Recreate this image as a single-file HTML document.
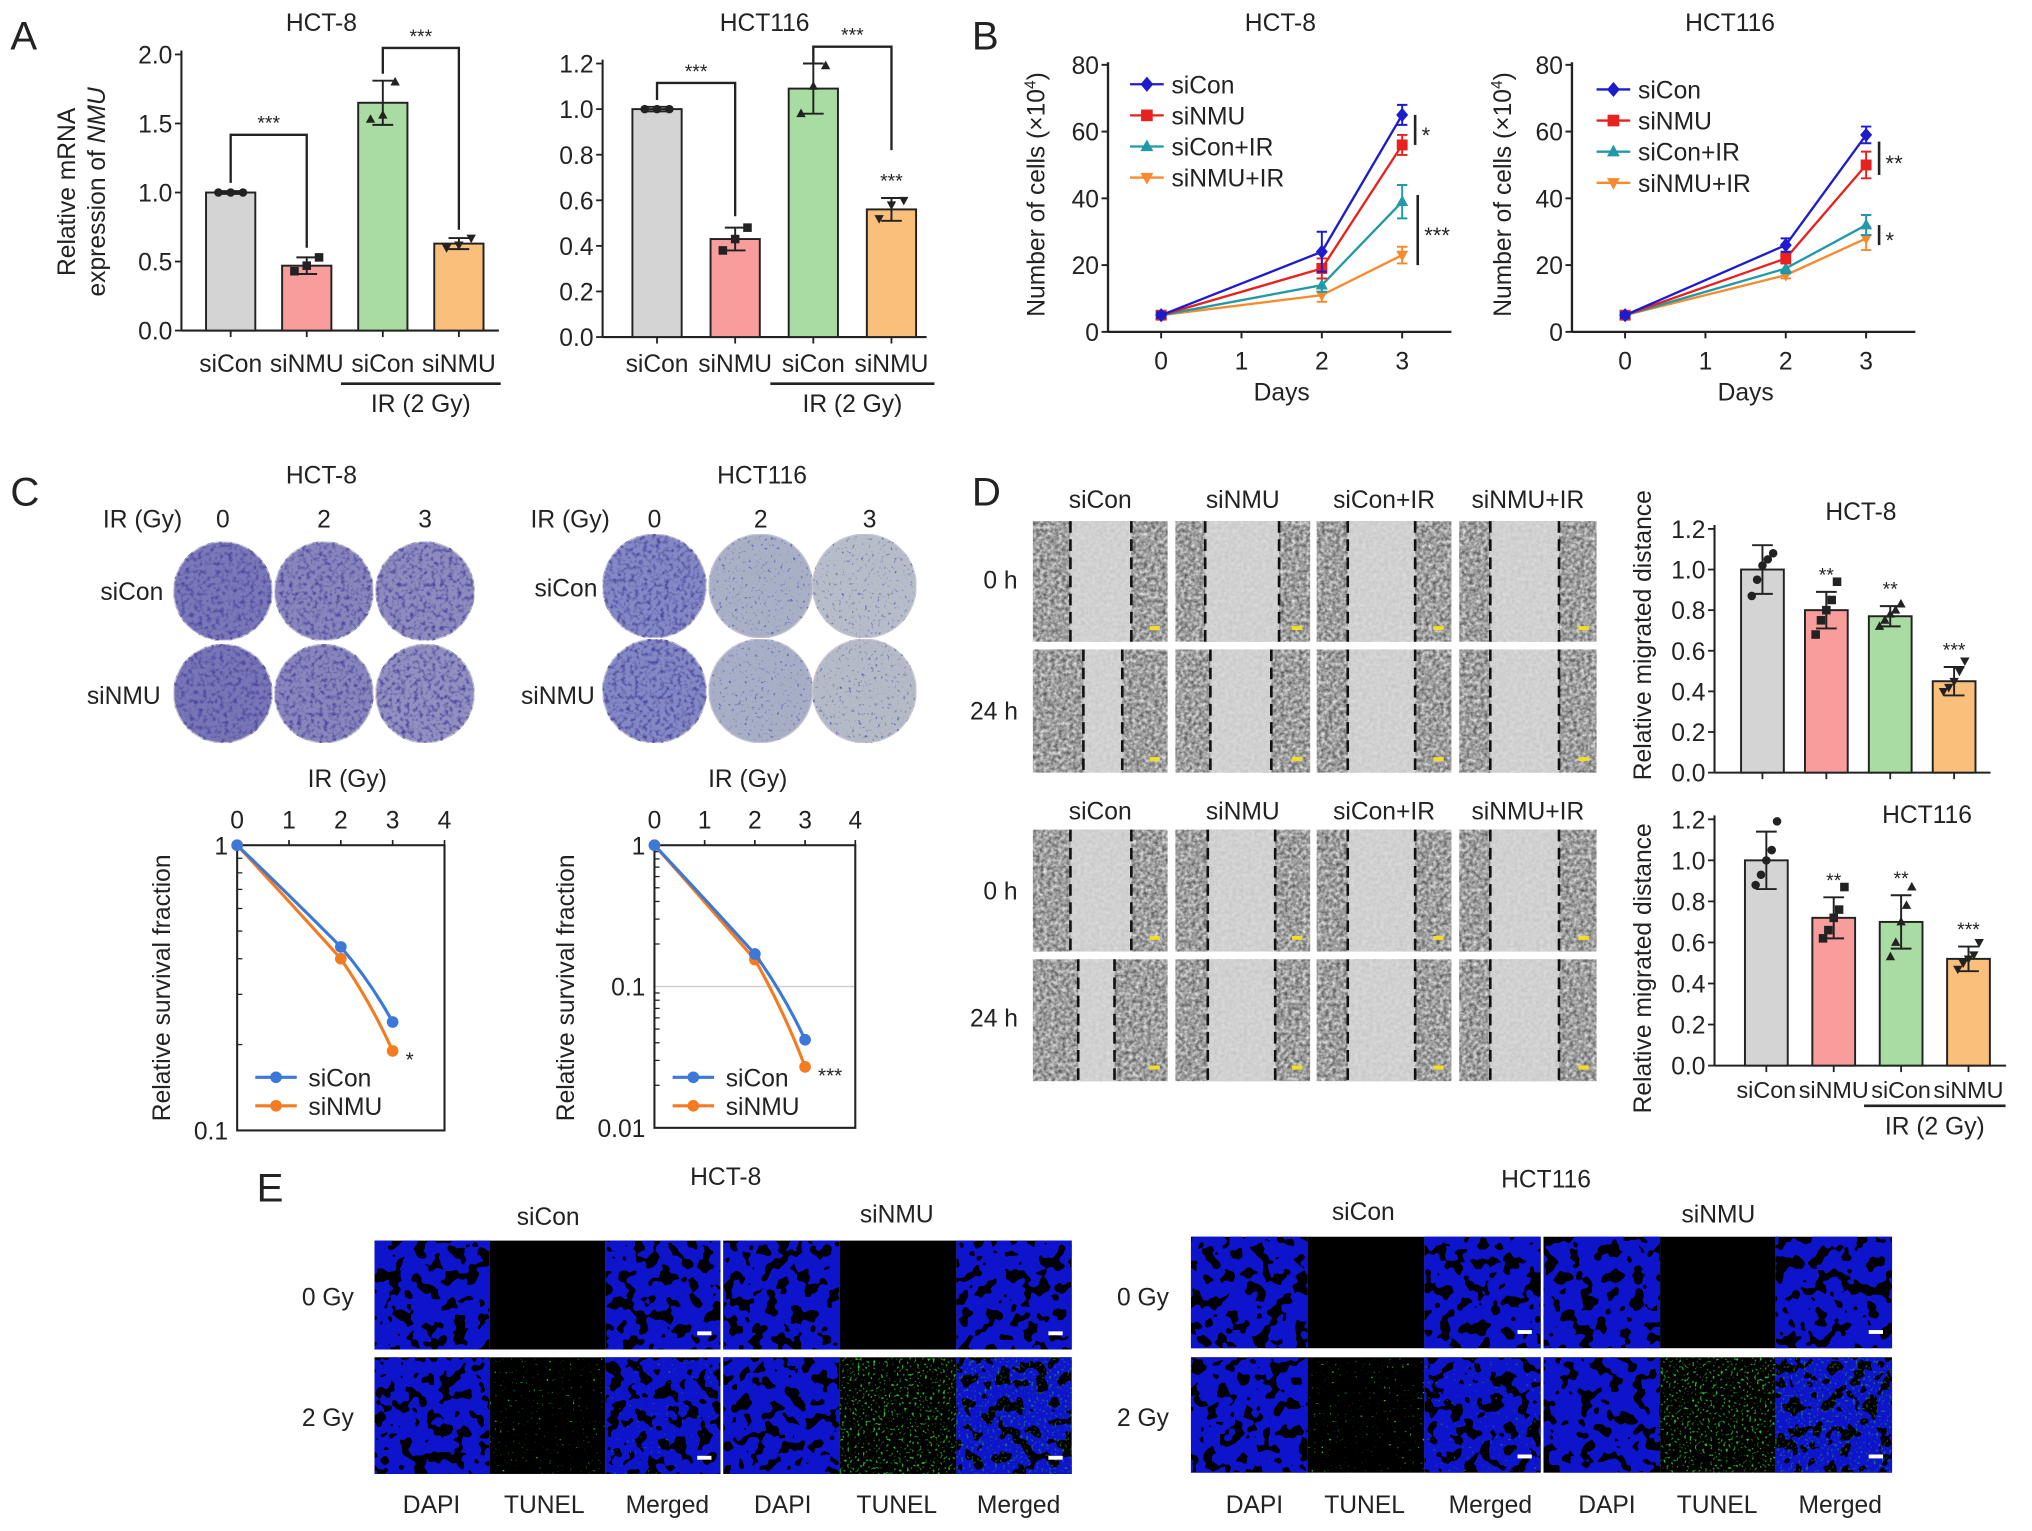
<!DOCTYPE html>
<html><head><meta charset="utf-8">
<style>
html,body{margin:0;padding:0;background:#fff;}
svg{display:block;font-family:"Liberation Sans",Arial,sans-serif;}
text{fill:#222;}
</style></head>
<body>
<svg id="fig" xmlns="http://www.w3.org/2000/svg" width="2032" height="1531" viewBox="0 0 1568 1181" preserveAspectRatio="none">
<defs>
<filter id="colony" x="0" y="0" width="1" height="1" color-interpolation-filters="sRGB">
 <feTurbulence type="fractalNoise" baseFrequency="0.3" numOctaves="2" seed="4" result="n"/>
 <feColorMatrix in="n" type="matrix" values="0 0 0 0 0.3  0 0 0 0 0.28  0 0 0 0 0.62  3 0 0 0 -1.4" result="s"/>
 <feComposite in="s" in2="SourceGraphic" operator="in" result="c"/>
 <feMerge><feMergeNode in="SourceGraphic"/><feMergeNode in="c"/></feMerge>
</filter>
<filter id="colonyL" x="0" y="0" width="1" height="1" color-interpolation-filters="sRGB">
 <feTurbulence type="fractalNoise" baseFrequency="0.4" numOctaves="2" seed="7" result="n"/>
 <feColorMatrix in="n" type="matrix" values="0 0 0 0 0.3  0 0 0 0 0.3  0 0 0 0 0.65  4 0 0 0 -2.5" result="s"/>
 <feComposite in="s" in2="SourceGraphic" operator="in" result="c"/>
 <feMerge><feMergeNode in="SourceGraphic"/><feMergeNode in="c"/></feMerge>
</filter>
<filter id="scratch" x="0" y="0" width="1" height="1" color-interpolation-filters="sRGB">
 <feTurbulence type="fractalNoise" baseFrequency="0.35" numOctaves="2" seed="2" result="n"/>
 <feColorMatrix in="n" type="matrix" values="0.8 0 0 0 0.22  0.8 0 0 0 0.22  0.8 0 0 0 0.22  0 0 0 0 1" result="g"/>
 <feComposite in="g" in2="SourceGraphic" operator="in"/>
</filter>
<filter id="dapi" x="0" y="0" width="1" height="1" color-interpolation-filters="sRGB">
 <feTurbulence type="fractalNoise" baseFrequency="0.1" numOctaves="2" seed="5" result="n"/>
 <feColorMatrix in="n" type="matrix" values="0 0 0 0 0.05  0 0 0 0 0.08  0 0 0 0 0.8  2 0 0 0 -0.62" result="s"/>
 <feComponentTransfer in="s" result="t"><feFuncA type="discrete" tableValues="0 1 1 1"/></feComponentTransfer>
 <feComposite in="t" in2="SourceGraphic" operator="in"/>
</filter>
<filter id="tunel" x="0" y="0" width="1" height="1" color-interpolation-filters="sRGB">
 <feTurbulence type="fractalNoise" baseFrequency="0.5" numOctaves="1" seed="9" result="n"/>
 <feColorMatrix in="n" type="matrix" values="0 0 0 0 0.15  0 0 0 0 0.75  0 0 0 0 0.2  7 0 0 0 -4.1" result="s"/>
 <feComposite in="s" in2="SourceGraphic" operator="in"/>
</filter>
<filter id="tunelS" x="0" y="0" width="1" height="1" color-interpolation-filters="sRGB">
 <feTurbulence type="fractalNoise" baseFrequency="0.5" numOctaves="1" seed="11" result="n"/>
 <feColorMatrix in="n" type="matrix" values="0 0 0 0 0.15  0 0 0 0 0.8  0 0 0 0 0.2  9 0 0 0 -6.2" result="s"/>
 <feComposite in="s" in2="SourceGraphic" operator="in"/>
</filter>
</defs>

<text x="8" y="38" font-size="31">A</text>
<text x="750" y="38" font-size="31">B</text>
<text x="8" y="390" font-size="31">C</text>
<text x="750" y="390" font-size="31">D</text>
<text x="198" y="927" font-size="31">E</text>

<text x="248" y="24" font-size="19" text-anchor="middle">HCT-8</text>
<text x="590" y="24" font-size="19" text-anchor="middle">HCT116</text>
<text transform="translate(58,148) rotate(-90)" font-size="19" text-anchor="middle">Relative mRNA</text>
<text transform="translate(81,148) rotate(-90)" font-size="19" text-anchor="middle">expression of <tspan font-style="italic">NMU</tspan></text>

<text x="988" y="24" font-size="19" text-anchor="middle">HCT-8</text>
<text x="1335" y="24" font-size="19" text-anchor="middle">HCT116</text>
<text transform="translate(806,150) rotate(-90)" font-size="19" text-anchor="middle">Number of cells (×10<tspan font-size="12" dy="-7">4</tspan><tspan dy="7">)</tspan></text>
<text transform="translate(1166,150) rotate(-90)" font-size="19" text-anchor="middle">Number of cells (×10<tspan font-size="12" dy="-7">4</tspan><tspan dy="7">)</tspan></text>
<text x="989" y="309" font-size="19" text-anchor="middle">Days</text>
<text x="1347" y="309" font-size="19" text-anchor="middle">Days</text>

<text x="248" y="373" font-size="19" text-anchor="middle">HCT-8</text>
<text x="588" y="373" font-size="19" text-anchor="middle">HCT116</text>
<text x="110" y="407" font-size="19" text-anchor="middle">IR (Gy)</text>
<text x="440" y="407" font-size="19" text-anchor="middle">IR (Gy)</text>
<text x="126" y="463" font-size="19" text-anchor="end">siCon</text>
<text x="124" y="543" font-size="19" text-anchor="end">siNMU</text>
<text x="461" y="460" font-size="19" text-anchor="end">siCon</text>
<text x="459" y="543" font-size="19" text-anchor="end">siNMU</text>
<text x="268" y="607" font-size="19" text-anchor="middle">IR (Gy)</text>
<text x="577" y="607" font-size="19" text-anchor="middle">IR (Gy)</text>
<text transform="translate(131,762) rotate(-90)" font-size="19" text-anchor="middle">Relative survival fraction</text>
<text transform="translate(443,762) rotate(-90)" font-size="19" text-anchor="middle">Relative survival fraction</text>

<text x="1436" y="401" font-size="19" text-anchor="middle">HCT-8</text>
<text x="1487" y="635" font-size="19" text-anchor="middle">HCT116</text>
<text transform="translate(1274,490) rotate(-90)" font-size="19" text-anchor="middle">Relative migrated distance</text>
<text transform="translate(1274,747) rotate(-90)" font-size="19" text-anchor="middle">Relative migrated distance</text>
<text x="772" y="454" font-size="19" text-anchor="middle">0 h</text>
<text x="767" y="555" font-size="19" text-anchor="middle">24 h</text>
<text x="772" y="694" font-size="19" text-anchor="middle">0 h</text>
<text x="767" y="792" font-size="19" text-anchor="middle">24 h</text>

<text x="560" y="914" font-size="19" text-anchor="middle">HCT-8</text>
<text x="1193" y="916" font-size="19" text-anchor="middle">HCT116</text>
<text x="423" y="945" font-size="19" text-anchor="middle">siCon</text>
<text x="692" y="943" font-size="19" text-anchor="middle">siNMU</text>
<text x="1052" y="941" font-size="19" text-anchor="middle">siCon</text>
<text x="1326" y="943" font-size="19" text-anchor="middle">siNMU</text>
<text x="253" y="1007" font-size="19" text-anchor="middle">0 Gy</text>
<text x="253" y="1100" font-size="19" text-anchor="middle">2 Gy</text>
<text x="882" y="1007" font-size="19" text-anchor="middle">0 Gy</text>
<text x="882" y="1100" font-size="19" text-anchor="middle">2 Gy</text>

<g id="layer"></g>
</svg>
<script>
// ---------- DATA ----------
const barCats = ['siCon','siNMU','siCon','siNMU'];
const aHct8Vals = [1.0, 0.47, 1.65, 0.63];
const aHct8Errs = [0.01, 0.06, 0.16, 0.04];
const aHct8Reps = [[1,1,1],[0.43,0.47,0.53],[1.53,1.56,1.8],[0.6,0.62,0.67]];
const aHct8Ticks = ['0.0','0.5','1.0','1.5','2.0'];
const aHct116Vals = [1.0, 0.43, 1.09, 0.56];
const aHct116Errs = [0.01, 0.05, 0.11, 0.05];
const aHct116Reps = [[1,1,1],[0.38,0.43,0.48],[0.98,1.1,1.19],[0.52,0.58,0.6]];
const aHct116Ticks = ['0.0','0.2','0.4','0.6','0.8','1.0','1.2'];

const days = [0, 2, 3];
const dayTicks = ['0','1','2','3'];
const growthTicks = ['0','20','40','60','80'];
const seriesNames = ['siCon','siNMU','siCon+IR','siNMU+IR'];
const bHct8Vals = [[5,24,65],[5,19,56],[5,14,39],[5,11,23]];
const bHct8Errs = [[0.8,6,3],[0.8,3,3],[0.8,2,5],[0.8,2,2.5]];
const bHct116Vals = [[5,26,59],[5,22,50],[5,19,32],[5,17,28]];
const bHct116Errs = [[0.8,2,2.5],[0.8,1.5,4],[0.8,1.5,3],[0.8,1,3.5]];

const doses = [0, 2, 3];
const doseTicks = ['0','1','2','3','4'];
const cHct8Con = [1, 0.44, 0.24];
const cHct8Nmu = [1, 0.40, 0.19];
const cHct116Con = [1, 0.17, 0.042];
const cHct116Nmu = [1, 0.155, 0.027];

const dCats = ['siCon','siNMU','siCon','siNMU'];
const dHct8Vals = [1.0, 0.80, 0.77, 0.45];
const dHct8Errs = [0.12, 0.09, 0.05, 0.07];
const dHct8Reps = [[0.87,0.95,1.02,1.05,1.08],[0.68,0.75,0.8,0.85,0.94],[0.72,0.75,0.78,0.8,0.83],[0.4,0.42,0.45,0.5,0.55]];
const dHct116Vals = [1.0, 0.72, 0.70, 0.52];
const dHct116Errs = [0.14, 0.10, 0.13, 0.06];
const dHct116Reps = [[0.88,0.93,1.0,1.05,1.19],[0.62,0.66,0.72,0.76,0.87],[0.53,0.6,0.7,0.78,0.87],[0.47,0.5,0.52,0.54,0.6]];
const dTicks = ['0.0','0.2','0.4','0.6','0.8','1.0','1.2'];

// ---------- HELPERS ----------
const NS='http://www.w3.org/2000/svg';
const root=document.getElementById('layer');
function mk(tag,a,p){const e=document.createElementNS(NS,tag);for(const k in a)e.setAttribute(k,a[k]);(p||root).appendChild(e);return e;}
function tx(s,x,y,a,p){const e=mk('text',Object.assign({x:x,y:y,'font-size':19},a||{}),p);e.textContent=s;return e;}
function marker(shape,x,y,r,fill,p){
  let e;
  if(shape==='circle') e=mk('circle',{cx:x,cy:y,r:r,fill:fill},p);
  else if(shape==='square') e=mk('rect',{x:x-r,y:y-r,width:2*r,height:2*r,fill:fill},p);
  else if(shape==='diamond') e=mk('polygon',{points:`${x},${y-r*1.3} ${x+r*1.1},${y} ${x},${y+r*1.3} ${x-r*1.1},${y}`,fill:fill},p);
  else if(shape==='up') e=mk('polygon',{points:`${x},${y-r*1.2} ${x+r*1.1},${y+r*0.8} ${x-r*1.1},${y+r*0.8}`,fill:fill},p);
  else e=mk('polygon',{points:`${x},${y+r*1.2} ${x+r*1.1},${y-r*0.8} ${x-r*1.1},${y-r*0.8}`,fill:fill},p);
  return e;
}
const barFills=['#d4d4d4','#f89c9c','#a8dca2','#fbbf7c'];
const repShapes=['circle','square','up','down'];

// ---------- BAR CHART ----------
function barChart(name,o){
  const g=mk('g',{});
  
  
  const y=v=>o.y0-(v/o.ymax)*(o.y0-o.yTop);
  const xc=i=>o.first+i*o.step;
  const fs=o.fs||19;
  const ax=mk('line',{x1:o.ax,y1:o.yTop-3,x2:o.ax,y2:o.y0,stroke:'#222','stroke-width':1.6},g);
  
  
  const bx=mk('line',{x1:o.ax,y1:o.y0,x2:o.xEnd,y2:o.y0,stroke:'#222','stroke-width':1.6},g);
  
  
  o.ticks.forEach((t,i)=>{
    const v=o.ymax*i/(o.ticks.length-1);
    const tk=mk('line',{x1:o.ax-5,y1:y(v),x2:o.ax,y2:y(v),stroke:'#222','stroke-width':1.4},g);
    
    
    const tl=tx(t,o.ax-7,y(v)+7,{'text-anchor':'end'},g);
    
    
  });
  o.vals.forEach((v,i)=>{
    const b=mk('rect',{x:xc(i)-o.bw/2,y:y(v),width:o.bw,height:o.y0-y(v),fill:barFills[i],stroke:'#222','stroke-width':1.5},g);
    
    
    const tk=mk('line',{x1:xc(i),y1:o.y0,x2:xc(i),y2:o.y0+5,stroke:'#222','stroke-width':1.4},g);
    
    
    const e=o.errs[i];
    const eb=mk('path',{d:`M${xc(i)},${y(v-e)}V${y(v+e)}M${xc(i)-8},${y(v+e)}h16M${xc(i)-8},${y(v-e)}h16`,stroke:'#222','stroke-width':1.5,fill:'none'},g);
    
    
    const reps=o.reps[i];
    reps.forEach((r,j)=>{
      const off=(j-(reps.length-1)/2)*(o.bw*0.5/(reps.length-1||1));
      const m=marker(repShapes[i],xc(i)+off,y(r),3.3,'#222',g);
      
      
    });
    if(o.labels){
      const cl=tx(o.labels[i],xc(i),o.labY,{'text-anchor':'middle','font-size':fs},g);
      
      
    }
    if(o.stars && o.stars[i]){
      const st=tx(o.stars[i],xc(i),y(v+e)-8,{'text-anchor':'middle','font-size':15},g);
      
      
    }
  });
  if(o.irY){
    const l=mk('line',{x1:xc(2)-o.step*0.55,y1:o.irY,x2:xc(3)+o.step*0.55,y2:o.irY,stroke:'#222','stroke-width':2},g);
    
    
    const it=tx('IR (2 Gy)',(xc(2)+xc(3))/2,o.irY+22,{'text-anchor':'middle'},g);
    
    
  }
  (o.brackets||[]).forEach(br=>{
    const x1=xc(br[0]),x2=xc(br[1]);
    const p=mk('path',{d:`M${x1},${y(br[3])}V${br[2]}H${x2}V${y(br[4])}`,stroke:'#222','stroke-width':1.8,fill:'none'},g);
    
    
    const s=tx('***',(x1+x2)/2,br[2]-4,{'text-anchor':'middle','font-size':15},g);
    
    
  });
}

barChart('a-hct8-bar-chart',{ax:140,y0:255,yTop:42,ymax:2.0,ticks:aHct8Ticks,first:178,step:58.7,bw:38,xEnd:385,
  vals:aHct8Vals,errs:aHct8Errs,reps:aHct8Reps,labels:barCats,labY:287,irY:296,
  brackets:[[0,1,104,1.07,0.6],[2,3,37,1.86,0.73]]});
barChart('a-hct116-bar-chart',{ax:465,y0:260,yTop:49,ymax:1.2,ticks:aHct116Ticks,first:507,step:60.3,bw:38,xEnd:715,
  vals:aHct116Vals,errs:aHct116Errs,reps:aHct116Reps,labels:barCats,labY:287,irY:296,stars:[null,null,null,'***'],
  brackets:[[0,1,64,1.04,0.53],[2,3,36,1.2,0.82]]});
barChart('d-hct8-bar-chart',{ax:1323,y0:596,yTop:408,ymax:1.2,ticks:dTicks,first:1360,step:49.3,bw:33,xEnd:1536,
  vals:dHct8Vals,errs:dHct8Errs,reps:dHct8Reps,stars:[null,'**','**','***']});
barChart('d-hct116-bar-chart',{ax:1323,y0:822,yTop:632,ymax:1.2,ticks:dTicks,first:1363,step:52,bw:33,xEnd:1548,fs:18,
  vals:dHct116Vals,errs:dHct116Errs,reps:dHct116Reps,labels:dCats,labY:847,irY:853,stars:[null,'**','**','***']});

// ---------- LINE (growth) CHART ----------
const lineColors=['#1c1ccc','#e8211f','#1f9aa6','#f78a2f'];
const lineShapes=['diamond','square','up','down'];
function growthChart(name,o){
  const g=mk('g',{});
  
  
  const y=v=>o.y0-(v/80)*(o.y0-o.yTop);
  const x=d=>o.x0+d*o.dx;
  const ya=mk('line',{x1:o.ax,y1:o.yTop-2,x2:o.ax,y2:o.y0,stroke:'#222','stroke-width':1.8},g);
  
  
  const xa=mk('line',{x1:o.ax,y1:o.y0,x2:o.xEnd,y2:o.y0,stroke:'#222','stroke-width':1.8},g);
  
  
  growthTicks.forEach((t,i)=>{
    const v=i*20;
    const tk=mk('line',{x1:o.ax-5,y1:y(v),x2:o.ax,y2:y(v),stroke:'#222','stroke-width':1.5},g);
    
    
    const tl=tx(t,o.ax-7,y(v)+7,{'text-anchor':'end'},g);
    
    
  });
  dayTicks.forEach((t,i)=>{
    const tk=mk('line',{x1:x(i),y1:o.y0,x2:x(i),y2:o.y0+5,stroke:'#222','stroke-width':1.5},g);
    
    
    const tl=tx(t,x(i),o.y0+29,{'text-anchor':'middle'},g);
    
    
  });
  for(let s=3;s>=0;s--){
    const pts=days.map((d,k)=>x(d)+','+y(o.vals[s][k])).join(' ');
    const pl=mk('polyline',{points:pts,fill:'none',stroke:lineColors[s],'stroke-width':1.8},g);
    
    
    days.forEach((d,k)=>{
      const v=o.vals[s][k],e=o.errs[s][k];
      const eb=mk('path',{d:`M${x(d)},${y(v-e)}V${y(v+e)}M${x(d)-4},${y(v+e)}h8M${x(d)-4},${y(v-e)}h8`,stroke:lineColors[s],'stroke-width':1.5,fill:'none'},g);
      
      
      const m=marker(lineShapes[s],x(d),y(v),4.2,lineColors[s],g);
      
      
    });
    const ly=o.legY+s*24;
    const ll=mk('line',{x1:o.legX,y1:ly,x2:o.legX+26,y2:ly,stroke:lineColors[s],'stroke-width':1.8},g);
    
    
    const lm=marker(lineShapes[s],o.legX+13,ly,4.5,lineColors[s],g);
    
    
    const lt=tx(seriesNames[s],o.legX+32,ly+7,{},g);
    
    
  }
  o.sig.forEach(sg=>{
    const l=mk('line',{x1:sg[0],y1:y(sg[1]),x2:sg[0],y2:y(sg[2]),stroke:'#222','stroke-width':2},g);
    
    
    const st=tx(sg[3],sg[0]+5,(y(sg[1])+y(sg[2]))/2+10,{'font-size':17},g);
    
    
  });
}
growthChart('b-hct8-growth-chart',{ax:855,y0:256,yTop:50,x0:896,dx:62,xEnd:1120,vals:bHct8Vals,errs:bHct8Errs,legX:872,legY:65,
  sig:[[1092,56,65,'*'],[1094,20,41,'***']]});
growthChart('b-hct116-growth-chart',{ax:1213,y0:256,yTop:50,x0:1254,dx:62,xEnd:1478,vals:bHct116Vals,errs:bHct116Errs,legX:1232,legY:69,
  sig:[[1450,47,57,'**'],[1450,26,32,'*']]});

// ---------- SURVIVAL CHART ----------
const survColors=['#3b78d8','#f47b20'];
function survChart(name,o){
  const g=mk('g',{});
  
  
  const x=d=>o.x0+d*(o.x1-o.x0)/4;
  const y=v=>o.yTop+(-Math.log10(v))/o.decades*(o.yBot-o.yTop);
  if(o.grid){
    const gl=mk('line',{x1:o.x0,y1:y(0.1),x2:o.x1,y2:y(0.1),stroke:'#d0d0d0','stroke-width':1.2},g);
    
    
  }
  const box=mk('rect',{x:o.x0,y:o.yTop,width:o.x1-o.x0,height:o.yBot-o.yTop,fill:'none',stroke:'#222','stroke-width':1.6},g);
  
  
  doseTicks.forEach((t,i)=>{
    const tk=mk('line',{x1:x(i),y1:o.yTop,x2:x(i),y2:o.yTop-4,stroke:'#222','stroke-width':1.3},g);
    
    
    const tl=tx(t,x(i),o.yTop-13,{'text-anchor':'middle'},g);
    
    
  });
  for(let d=0;d<o.decades;d++){
    for(let m=2;m<=9;m++){
      const v=Math.pow(10,-d-1)*m;
      const tk=mk('line',{x1:o.x0,y1:y(v),x2:o.x0+4,y2:y(v),stroke:'#222','stroke-width':1},g);
      
      
    }
  }
  o.yLabels.forEach((t,i)=>{
    const tl=tx(t,o.x0-7,y(Math.pow(10,-i))+7,{'text-anchor':'end'},g);
    
    
  });
  [o.nmu,o.con].forEach((vals,k)=>{
    const c=k===0?survColors[1]:survColors[0];
    let d=`M${x(doses[0])},${y(vals[0])}`;
    for(let i=1;i<doses.length;i++){
      const xa=x(doses[i-1]),ya=y(vals[i-1]),xb=x(doses[i]),yb=y(vals[i]);
      d+=` Q${(xa+xb)/2+ (i===1?-3:3)},${(ya+yb)/2+(i===1?-4:-2)} ${xb},${yb}`;
    }
    const p=mk('path',{d:d,fill:'none',stroke:c,'stroke-width':2.4},g);
    
    
    doses.forEach((dd,i)=>{
      const m=mk('circle',{cx:x(dd),cy:y(vals[i]),r:4.5,fill:c},g);
      
      
    });
  });
  ['siCon','siNMU'].forEach((n,k)=>{
    const ly=o.legY+k*22;
    const c=survColors[k];
    const l=mk('line',{x1:o.legX,y1:ly,x2:o.legX+32,y2:ly,stroke:c,'stroke-width':2.4},g);
    
    
    const m=mk('circle',{cx:o.legX+16,cy:ly,r:4.5,fill:c},g);
    
    
    const t=tx(n,o.legX+41,ly+7,{},g);
    
    
  });
  const st=tx(o.star,x(3)+10,y(o.nmu[2])+12,{'font-size':16},g);
  
  
}
survChart('c-hct8-survival-chart',{x0:183,x1:343,yTop:652,yBot:872,decades:1,con:cHct8Con,nmu:cHct8Nmu,yLabels:['1','0.1'],legX:197,legY:831,star:'*'});
survChart('c-hct116-survival-chart',{x0:505,x1:660,yTop:652,yBot:870,decades:2,con:cHct116Con,nmu:cHct116Nmu,yLabels:['1','0.1','0.01'],legX:519,legY:831,star:'***',grid:true});

// ---------- COLONY DISHES ----------
const dishSets=[
 {name:'c-hct8-dish',cx:[172,250,328],cy:[456,535],r:38,fills:[['#7a78b8','#8886bc','#8e8cbe'],['#7876b6','#8886bc','#9290c0']],light:[[0,0,0],[0,0,0]]},
 {name:'c-hct116-dish',cx:[505,587,667],cy:[452,533],r:40,fills:[['#8488c4','#a9b0c6','#b6bdc8'],['#8488c4','#a7aec6','#b4bbc6']],light:[[0,1,1],[0,1,1]]}
];
dishSets.forEach(s=>{
  s.cy.forEach((cy,ri)=>{
    s.cx.forEach((cx,ci)=>{
      const c=mk('circle',{cx:cx,cy:cy,r:s.r,fill:s.fills[ri][ci],stroke:'#c8c8d4','stroke-width':1,filter:s.light[ri][ci]?'url(#colonyL)':'url(#colony)'});
      
      
    });
  });
});
[[172,250,328,407],[505,587,671,407]].forEach(a=>{
  ['0','2','3'].forEach((t,i)=>{
    const e=tx(t,a[i],a[3],{'text-anchor':'middle'});
    
    
  });
});

// ---------- SCRATCH ASSAY IMAGES ----------
const scCols=[[797,901],[907,1011],[1016,1120],[1126,1232]];
const scRows=[[402,495],[501,596],[640,734],[740,834]];
const scLines=[
 [[826,873],[930,987],[1040,1092],[1150,1203]],
 [[836,866],[934,981],[1040,1092],[1150,1203]],
 [[826,873],[932,984],[1040,1092],[1150,1203]],
 [[832,860],[932,984],[1040,1092],[1150,1203]]];
const scLabels=['siCon','siNMU','siCon+IR','siNMU+IR'];
scRows.forEach((r,ri)=>{
  scCols.forEach((c,ci)=>{
    const base=mk('rect',{x:c[0],y:r[0],width:c[1]-c[0],height:r[1]-r[0],fill:'#fff',filter:'url(#scratch)'});
    
    
    const L=scLines[ri][ci];
    const gap=mk('rect',{x:L[0],y:r[0],width:L[1]-L[0],height:r[1]-r[0],fill:'#d9d9d9',opacity:0.85});
    
    
    L.forEach(lx=>{
      const dl=mk('line',{x1:lx,y1:r[0],x2:lx,y2:r[1],stroke:'#111','stroke-width':2,'stroke-dasharray':'9,5'});
      
      
    });
    const sb=mk('rect',{x:c[1]-14,y:r[1]-12,width:8,height:3,fill:'#f0e020'});
    
    
  });
});
[392,632].forEach(yy=>{
  scLabels.forEach((t,i)=>{
    const e=tx(t,(scCols[i][0]+scCols[i][1])/2,yy,{'text-anchor':'middle'});
    
    
  });
});

// ---------- TUNEL IMAGES ----------
const eBlocks=[
 {cols:[[289,378],[378,467],[467,556],[558,648],[648,738],[738,827]],rows:[[957,1041],[1047,1137]],lab:[333,420,515,604,692,786]},
 {cols:[[919,1009],[1009,1099],[1099,1189],[1191,1281],[1281,1370],[1370,1460]],rows:[[954,1040],[1047,1136]],lab:[968,1053,1150,1240,1325,1420]}
];
const eKinds=['DAPI','TUNEL','Merged','DAPI','TUNEL','Merged'];
eBlocks.forEach((b,bi)=>{
  b.rows.forEach((r,ri)=>{
    b.cols.forEach((c,ci)=>{
      const w=c[1]-c[0],h=r[1]-r[0];
      const bg=mk('rect',{x:c[0],y:r[0],width:w,height:h,fill:'#000'});
      
      
      const k=eKinds[ci];
      if(k!=='TUNEL'){
        const d=mk('rect',{x:c[0],y:r[0],width:w,height:h,fill:'#fff',filter:'url(#dapi)'});
        
        
      }
      if(ri===1 && k!=='DAPI'){
        const strong=(ci>=3);
        const t=mk('rect',{x:c[0],y:r[0],width:w,height:h,fill:'#fff',filter:strong?'url(#tunel)':'url(#tunelS)',opacity:k==='Merged'?0.5:1});
        
        
      }
      if(ci===2||ci===5){
        const sb=mk('rect',{x:c[1]-18,y:r[1]-14,width:11,height:3,fill:'#fff'});
        
        
      }
    });
  });
  const sep=mk('line',{x1:b.cols[3][0]-1,y1:b.rows[0][0],x2:b.cols[3][0]-1,y2:b.rows[1][1],stroke:'#fff','stroke-width':2});
  
  
  b.lab.forEach((x,i)=>{
    const e=tx(eKinds[i],x,1167,{'text-anchor':'middle'});
    
    
  });
});
</script>
</body></html>
